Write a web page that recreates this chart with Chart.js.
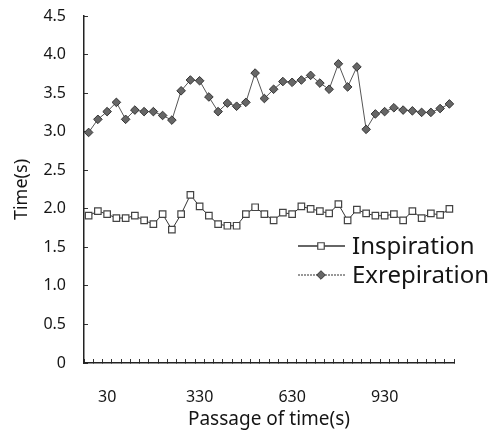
<!DOCTYPE html>
<html><head><meta charset="utf-8">
<script src="https://cdn.jsdelivr.net/npm/chart.js@4/dist/chart.umd.min.js"></script>
<style>html,body{margin:0;padding:0;background:#fff}#wrap{width:504px;height:432px}</style>
</head><body><div id="wrap"><canvas id="c" width="504" height="432"></canvas></div>
<script>
// Category tick labels (one per sample, 40 samples); only a few are labelled in the figure
const categories = ['', '', '30', '', '', '', '', '', '', '',
                    '', '', '330', '', '', '', '', '', '', '',
                    '', '', '630', '', '', '', '', '', '', '',
                    '', '', '930', '', '', '', '', '', '', ''];
const seriesNames = ['Inspiration', 'Exrepiration'];
const inspiration = [1.91, 1.97, 1.93, 1.88, 1.88, 1.91, 1.85, 1.80, 1.93, 1.73,
                     1.93, 2.18, 2.03, 1.91, 1.80, 1.78, 1.78, 1.93, 2.02, 1.93,
                     1.85, 1.95, 1.93, 2.03, 2.00, 1.97, 1.94, 2.06, 1.85, 1.99,
                     1.94, 1.91, 1.91, 1.93, 1.85, 1.97, 1.88, 1.94, 1.92, 2.00];
const exrepiration = [2.99, 3.16, 3.26, 3.38, 3.16, 3.28, 3.26, 3.26, 3.21, 3.15,
                      3.53, 3.67, 3.66, 3.45, 3.26, 3.37, 3.33, 3.38, 3.76, 3.43,
                      3.55, 3.65, 3.64, 3.67, 3.73, 3.63, 3.55, 3.88, 3.58, 3.84,
                      3.03, 3.23, 3.26, 3.31, 3.28, 3.27, 3.25, 3.25, 3.30, 3.36];
const yMin = 0, yMax = 4.5, yStep = 0.5;

const FONT = 'Noto Sans';
const TEXT = '#151515';

const lineLegend = {
  id: 'lineLegend',
  afterDraw(chart) {
    const ctx = chart.ctx;
    chart.data.datasets.forEach((ds, i) => {
      const y = 246 + i * 29;
      ctx.save();
      ctx.strokeStyle = ds.legendLineColor;
      ctx.lineWidth = ds.legendLineWidth;
      ctx.setLineDash(ds.legendDash);
      ctx.beginPath();
      ctx.moveTo(298, y);
      ctx.lineTo(345, y);
      ctx.stroke();
      ctx.setLineDash([]);
      ctx.fillStyle = ds.pointBackgroundColor;
      ctx.strokeStyle = ds.pointBorderColor;
      ctx.lineWidth = ds.pointBorderWidth;
      Chart.helpers.drawPoint(ctx, {pointStyle: ds.pointStyle, radius: ds.pointRadius, borderWidth: ds.pointBorderWidth, rotation: 0}, 321, y);
      ctx.fillStyle = TEXT;
      ctx.font = '24px "' + FONT + '"';
      ctx.textBaseline = 'middle';
      ctx.textAlign = 'left';
      ctx.fillText(ds.label, 352, y + 1);
      ctx.restore();
    });
  }
};

new Chart(document.getElementById('c'), {
  type: 'line',
  data: {
    labels: categories,
    datasets: [
      {label: seriesNames[0], data: inspiration, borderColor: '#333', borderWidth: 1,
       pointStyle: 'rect', pointRadius: 4.6, pointBackgroundColor: '#fff',
       pointBorderColor: '#444', pointBorderWidth: 1.2, tension: 0,
       legendLineColor: '#333', legendLineWidth: 1.3, legendDash: []},
      {label: seriesNames[1], data: exrepiration, borderColor: '#555', borderWidth: 1,
       pointStyle: 'rectRot', pointRadius: 4.3, pointBackgroundColor: '#666',
       pointBorderColor: '#333', pointBorderWidth: 1, tension: 0,
       legendLineColor: '#777', legendLineWidth: 1.3, legendDash: [2, 1]}
    ]
  },
  options: {
    responsive: false, animation: false, devicePixelRatio: 1,
    layout: {padding: {top: 16, right: 50, left: 0, bottom: 0}},
    plugins: {legend: {display: false}, tooltip: {enabled: false}},
    scales: {
      x: {
        type: 'category', offset: true,
        grid: {offset: true, drawOnChartArea: false, drawTicks: true, tickLength: -4, color: '#333', tickWidth: 1},
        border: {color: '#222', width: 1.5},
        ticks: {autoSkip: false, maxRotation: 0, minRotation: 0, padding: 29, color: TEXT, font: {family: FONT, size: 16}},
        title: {display: true, text: 'Passage of time(s)', color: TEXT, font: {family: FONT, size: 19}, padding: {top: 0, bottom: 1}},
        afterFit(s) { s.height = 69; s.paddingLeft = 0; s.paddingRight = 0; }
      },
      y: {
        min: yMin, max: yMax,
        ticks: {stepSize: yStep, padding: 22, color: TEXT, font: {family: FONT, size: 16},
                callback: v => v === 0 ? '0' : Number(v).toFixed(1)},
        grid: {drawOnChartArea: false, drawTicks: true, tickLength: -4, color: '#333'},
        border: {color: '#222', width: 1.5},
        title: {display: true, text: 'Time(s)', color: TEXT, font: {family: FONT, size: 18}, padding: {top: 11, bottom: 0}},
        afterFit(s) { s.width = 84; s.paddingTop = 0; s.paddingBottom = 0; }
      }
    }
  },
  plugins: [lineLegend]
});
</script>
</body></html>
